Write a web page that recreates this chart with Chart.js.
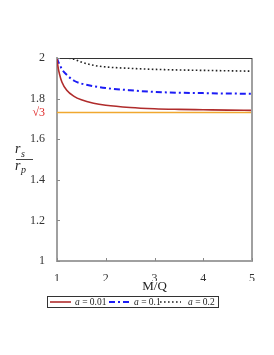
<!DOCTYPE html>
<html>
<head>
<meta charset="utf-8">
<script src="https://cdn.jsdelivr.net/npm/chart.js@4/dist/chart.umd.min.js"></script>
<style>
  html, body { margin: 0; padding: 0; background: #fff; }
  #wrap { width: 274px; height: 355px; }
</style>
</head>
<body>
<div id="wrap"><canvas id="plot" width="274" height="355"></canvas></div>
<script>
// M/Q values shared by all curves
const mq = [1, 1.02, 1.05, 1.1, 1.2, 1.35, 1.5, 1.75, 2, 2.5, 3, 3.5, 4, 4.5, 5];
// r_s / r_p
const ratioA001 = [2.0, 1.958, 1.922, 1.882, 1.841, 1.811, 1.794, 1.777, 1.767, 1.756, 1.750, 1.747, 1.745, 1.743, 1.742];
const ratioA01  = [2.0, 1.985, 1.970, 1.945, 1.917, 1.888, 1.874, 1.861, 1.852, 1.841, 1.833, 1.829, 1.827, 1.825, 1.824];
const ratioA02  = [2.0, 2.0, 2.0, 2.0, 2.0, 1.994, 1.980, 1.964, 1.956, 1.949, 1.944, 1.941, 1.939, 1.937, 1.935];
const seriesLabels = ['0.01', '0.1', '0.2'];
const xTicks = [1, 2, 3, 4, 5];
const yTicks = [1, 1.2, 1.4, 1.6, 1.8, 2];
const sqrt3 = Math.sqrt(3);

const serif = 'Liberation Serif';
const axisGray = '#a0a0a0';

function toPoints(ys) {
  return mq.map((x, i) => ({ x: x, y: ys[i] }));
}

// borders, tick marks, fraction title, x title and the boxed legend
const decorations = {
  id: 'decorations',
  afterDatasetsDraw(chart) {
    const ctx = chart.ctx;
    const a = chart.chartArea;
    const xs = chart.scales.x;
    const ys = chart.scales.y;
    ctx.save();

    // right and top frame
    ctx.strokeStyle = axisGray;
    ctx.lineWidth = 2;
    ctx.beginPath();
    ctx.moveTo(a.right, a.top);
    ctx.lineTo(a.right, a.bottom + 1);
    ctx.stroke();
    ctx.strokeStyle = '#333';
    ctx.lineWidth = 1.2;
    ctx.beginPath();
    ctx.moveTo(a.left, a.top + 0.5);
    ctx.lineTo(a.right, a.top + 0.5);
    ctx.stroke();

    // small inner tick marks
    ctx.strokeStyle = '#888';
    ctx.lineWidth = 1;
    xTicks.forEach(v => {
      const px = Math.round(xs.getPixelForValue(v)) + 0.5;
      ctx.beginPath();
      ctx.moveTo(px, a.bottom);
      ctx.lineTo(px, a.bottom - 3);
      ctx.stroke();
    });
    yTicks.forEach(v => {
      const py = Math.round(ys.getPixelForValue(v)) + 0.5;
      ctx.beginPath();
      ctx.moveTo(a.left, py);
      ctx.lineTo(a.left + 3, py);
      ctx.stroke();
    });

    // y title as a fraction r_s / r_p
    ctx.fillStyle = '#222';
    ctx.textBaseline = 'alphabetic';
    ctx.textAlign = 'left';
    ctx.font = 'italic 14px "' + serif + '"';
    ctx.fillText('r', 15, 153);
    ctx.fillText('r', 15, 170);
    ctx.font = 'italic 10px "' + serif + '"';
    ctx.fillText('s', 21, 157);
    ctx.fillText('p', 21, 173);
    ctx.strokeStyle = '#444';
    ctx.lineWidth = 1;
    ctx.beginPath();
    ctx.moveTo(16, 159.5);
    ctx.lineTo(33, 159.5);
    ctx.stroke();

    // x title
    ctx.font = '13px "' + serif + '"';
    ctx.textAlign = 'center';
    ctx.fillText('M/Q', (a.left + a.right) / 2, 290);

    // legend
    const box = { x: 47.5, y: 296.5, w: 171, h: 11 };
    ctx.strokeStyle = '#333';
    ctx.lineWidth = 1;
    ctx.strokeRect(box.x, box.y, box.w, box.h);
    const ly = box.y + box.h / 2;
    const itemX = [50, 109, 160];
    const textX = [75, 134, 188];
    ctx.textAlign = 'left';
    ctx.textBaseline = 'middle';
    chart.data.datasets.slice(0, 3).forEach((ds, i) => {
      ctx.strokeStyle = ds.borderColor;
      ctx.lineWidth = ds.borderWidth;
      ctx.setLineDash(ds.borderDash || []);
      ctx.beginPath();
      ctx.moveTo(itemX[i], ly);
      ctx.lineTo(itemX[i] + 21, ly);
      ctx.stroke();
      ctx.setLineDash([]);
      let tx = textX[i];
      ctx.fillStyle = '#222';
      ctx.font = 'italic 9.5px "' + serif + '"';
      ctx.fillText('a', tx, ly + 0.5);
      tx += ctx.measureText('a').width;
      ctx.font = '9.5px "' + serif + '"';
      ctx.fillText(' = ' + seriesLabels[i], tx, ly + 0.5);
    });
    ctx.restore();
  }
};

new Chart(document.getElementById('plot'), {
  type: 'line',
  data: {
    datasets: [
      {
        label: 'a = ' + seriesLabels[0],
        data: toPoints(ratioA001),
        borderColor: '#b02c2c',
        borderWidth: 1.6,
        pointRadius: 0,
        cubicInterpolationMode: 'monotone'
      },
      {
        label: 'a = ' + seriesLabels[1],
        data: toPoints(ratioA01),
        borderColor: '#1c1cf5',
        borderWidth: 2,
        borderDash: [6, 3, 2, 3],
        pointRadius: 0,
        cubicInterpolationMode: 'monotone'
      },
      {
        label: 'a = ' + seriesLabels[2],
        data: toPoints(ratioA02),
        borderColor: '#222',
        borderWidth: 1.6,
        borderDash: [1.6, 2.4],
        pointRadius: 0,
        cubicInterpolationMode: 'monotone'
      },
      {
        label: 'sqrt3',
        data: [{ x: mq[0], y: sqrt3 }, { x: mq[mq.length - 1], y: sqrt3 }],
        borderColor: '#f0a830',
        borderWidth: 1.5,
        pointRadius: 0
      }
    ]
  },
  options: {
    responsive: false,
    animation: false,
    layout: { padding: { left: 0, top: 58, right: 22, bottom: 74 } },
    plugins: {
      legend: { display: false },
      tooltip: { enabled: false }
    },
    scales: {
      x: {
        type: 'linear',
        min: 1,
        max: 5,
        afterBuildTicks: scale => { scale.ticks = xTicks.map(v => ({ value: v })); },
        afterFit: scale => { scale.height = 20; },
        grid: { display: false },
        border: { color: axisGray, width: 2 },
        ticks: {
          padding: 3,
          color: '#333',
          font: { family: serif, size: 12 }
        }
      },
      y: {
        type: 'linear',
        min: 1,
        max: 2,
        afterBuildTicks: scale => {
          scale.ticks = yTicks.map(v => ({ value: v })).concat([{ value: sqrt3 }]);
        },
        afterFit: scale => { scale.width = 57; },
        grid: { display: false },
        border: { color: axisGray, width: 2 },
        ticks: {
          padding: 4,
          font: { family: serif, size: 12 },
          color: c => (c.tick && c.tick.value === sqrt3 ? '#e02828' : '#333'),
          callback: v => (v === sqrt3 ? '√3' : String(v))
        }
      }
    }
  },
  plugins: [decorations]
});
</script>
</body>
</html>
